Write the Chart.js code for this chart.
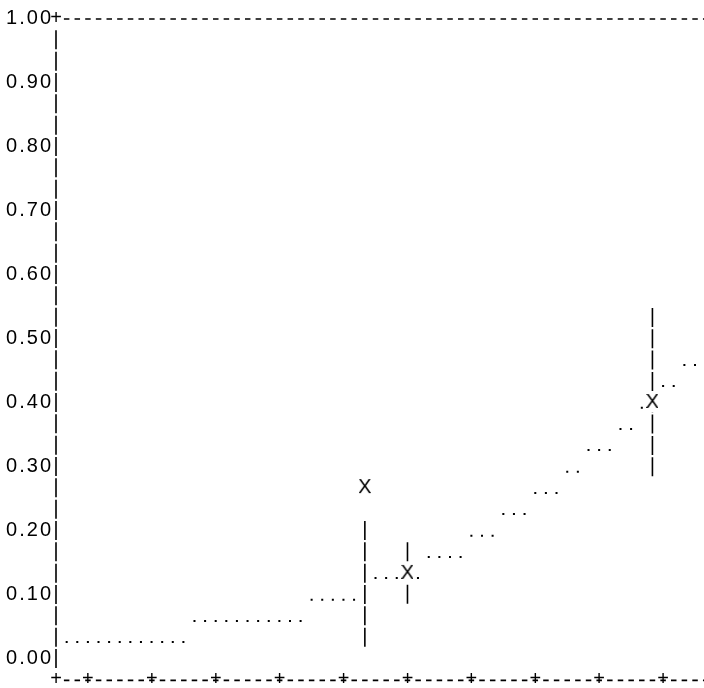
<!DOCTYPE html>
<html>
<head>
<meta charset="utf-8">
<script src="https://cdn.jsdelivr.net/npm/chart.js@4/dist/chart.umd.min.js"></script>
<style>
  html, body { margin: 0; padding: 0; background: #fff; overflow: hidden; }
  #wrap { width: 704px; height: 688px; }
  canvas { display: block; }
</style>
</head>
<body>
<div id="wrap"><canvas id="chart"></canvas></div>
<script>
// axis ticks: labelled y ticks, bare '+' marks along x
const yTicks = [0, 0.1, 0.2, 0.3, 0.4, 0.5, 0.6, 0.7, 0.8, 0.9, 1.0];
const xTicks = [0, 1, 2, 3, 4, 5, 6, 7, 8, 9];

// fitted curve, printed as runs of dots: level and x extent of each run
const curveLevel = [0.025, 0.058, 0.091, 0.125, 0.158, 0.191, 0.225, 0.258, 0.291, 0.325, 0.358, 0.391, 0.425, 0.458];
const curveFrom  = [-0.333, 1.667, 3.5, 4.5, 5.333, 6.0, 6.5, 7.0, 7.5, 7.833, 8.333, 8.667, 9.0, 9.333];
const curveTo    = [1.5, 3.333, 4.167, 5.167, 5.833, 6.333, 6.833, 7.333, 7.667, 8.167, 8.5, 8.833, 9.167, 9.5];

// measured points (X)
const pointX = [4.333, 5.0, 8.833];
const pointY = [0.267, 0.133, 0.4];

// error bars
const barX    = [4.333, 5.0, 8.833];
const barHigh = [0.214, 0.181, 0.547];
const barLow  = [0.016, 0.083, 0.282];

const FONT = '"Liberation Sans", Arial, sans-serif';
const INK = '#000';

const curveData = curveLevel.flatMap((v, i) => [
    { x: curveFrom[i], y: v }, { x: curveTo[i], y: v }, { x: curveTo[i], y: null }
]);
const barData = barX.flatMap((x, i) => [
    { x: x, y: barHigh[i] }, { x: x, y: barLow[i] }, { x: x, y: null }
]);
const pointData = pointX.map((x, i) => ({ x: x, y: pointY[i] }));

// an 'X' glyph on a white cell, used as the point marker
function glyph(ch) {
    const c = document.createElement('canvas');
    c.width = 12;
    c.height = 20;
    const g = c.getContext('2d');
    g.fillStyle = '#fff';
    g.fillRect(0, 0, c.width, c.height);
    g.fillStyle = INK;
    g.font = '20px ' + FONT;
    g.textAlign = 'center';
    g.textBaseline = 'middle';
    g.fillText(ch, c.width / 2, c.height / 2);
    return c;
}

function colWidth(chart) {
    const s = chart.scales.x;
    return (s.getPixelForValue(1) - s.getPixelForValue(0)) / 6;
}
function rowHeight(chart) {
    const s = chart.scales.y;
    return (s.getPixelForValue(0) - s.getPixelForValue(0.1)) / 3;
}
function noPadding(scale) {
    scale.paddingTop = 0;
    scale.paddingBottom = 0;
    scale.paddingLeft = 0;
    scale.paddingRight = 0;
}

// dumb-terminal style frame: '-' runs, '|' runs and '+' corners / tics
const asciiFrame = {
    id: 'asciiFrame',
    beforeDraw(chart) {
        chart.ctx.letterSpacing = '2px';
    },
    beforeDatasetsDraw(chart) {
        const { ctx, chartArea: a, scales: { x, y } } = chart;
        const col = colWidth(chart);
        const row = rowHeight(chart);
        const top = y.getPixelForValue(1);
        ctx.save();
        ctx.letterSpacing = '0px';
        ctx.strokeStyle = INK;

        ctx.lineWidth = 1.7;
        ctx.setLineDash([5.5, col - 5.5]);
        [top + 1, a.bottom + 1].forEach(py => {
            ctx.beginPath();
            ctx.moveTo(a.left + col - 2.75, py);
            ctx.lineTo(a.right, py);
            ctx.stroke();
        });

        ctx.lineWidth = 1.6;
        ctx.setLineDash([19, row - 19]);
        ctx.beginPath();
        ctx.moveTo(a.left, top + row - 9);
        ctx.lineTo(a.left, y.getPixelForValue(0) + 11.5);
        ctx.stroke();

        ctx.fillStyle = INK;
        ctx.font = '20px ' + FONT;
        ctx.textAlign = 'center';
        ctx.textBaseline = 'middle';
        ctx.fillText('+', a.left, top);
        ctx.fillText('+', a.left, a.bottom);
        xTicks.forEach(v => ctx.fillText('+', x.getPixelForValue(v), a.bottom));
        ctx.restore();
    }
};

new Chart(document.getElementById('chart'), {
    type: 'scatter',
    data: {
        datasets: [
            {
                data: pointData,
                pointStyle: glyph('X'),
                pointRadius: 6,
                showLine: false
            },
            {
                data: barData,
                showLine: true,
                pointRadius: 0,
                borderColor: INK,
                borderWidth: 1.6,
                borderDash: ctx => { const r = rowHeight(ctx.chart); return [19, r - 19]; }
            },
            {
                data: curveData,
                showLine: true,
                pointRadius: 0,
                borderColor: INK,
                borderWidth: 2,
                borderCapStyle: 'square',
                borderDash: ctx => { const c = colWidth(ctx.chart); return [0.02, c - 0.06]; },
                borderDashOffset: 0.01
            }
        ]
    },
    options: {
        responsive: true,
        maintainAspectRatio: false,
        animation: false,
        events: [],
        layout: { autoPadding: false, padding: { top: 18, right: 0, bottom: 8.67, left: 0 } },
        plugins: {
            legend: { display: false },
            tooltip: { enabled: false }
        },
        scales: {
            x: {
                type: 'linear',
                display: false,
                min: -0.5,
                max: 9.64,
                ticks: { display: false },
                afterFit: noPadding
            },
            y: {
                type: 'linear',
                min: -1 / 30,
                max: 1,
                afterBuildTicks: scale => { scale.ticks = yTicks.map(v => ({ value: v })); },
                afterFit: scale => { scale.width = 56; noPadding(scale); },
                grid: { display: false, drawTicks: false },
                border: { display: false },
                ticks: {
                    color: INK,
                    padding: 3,
                    font: { family: FONT, size: 20 },
                    callback: v => v.toFixed(2)
                }
            }
        }
    },
    plugins: [asciiFrame]
});
</script>
</body>
</html>
